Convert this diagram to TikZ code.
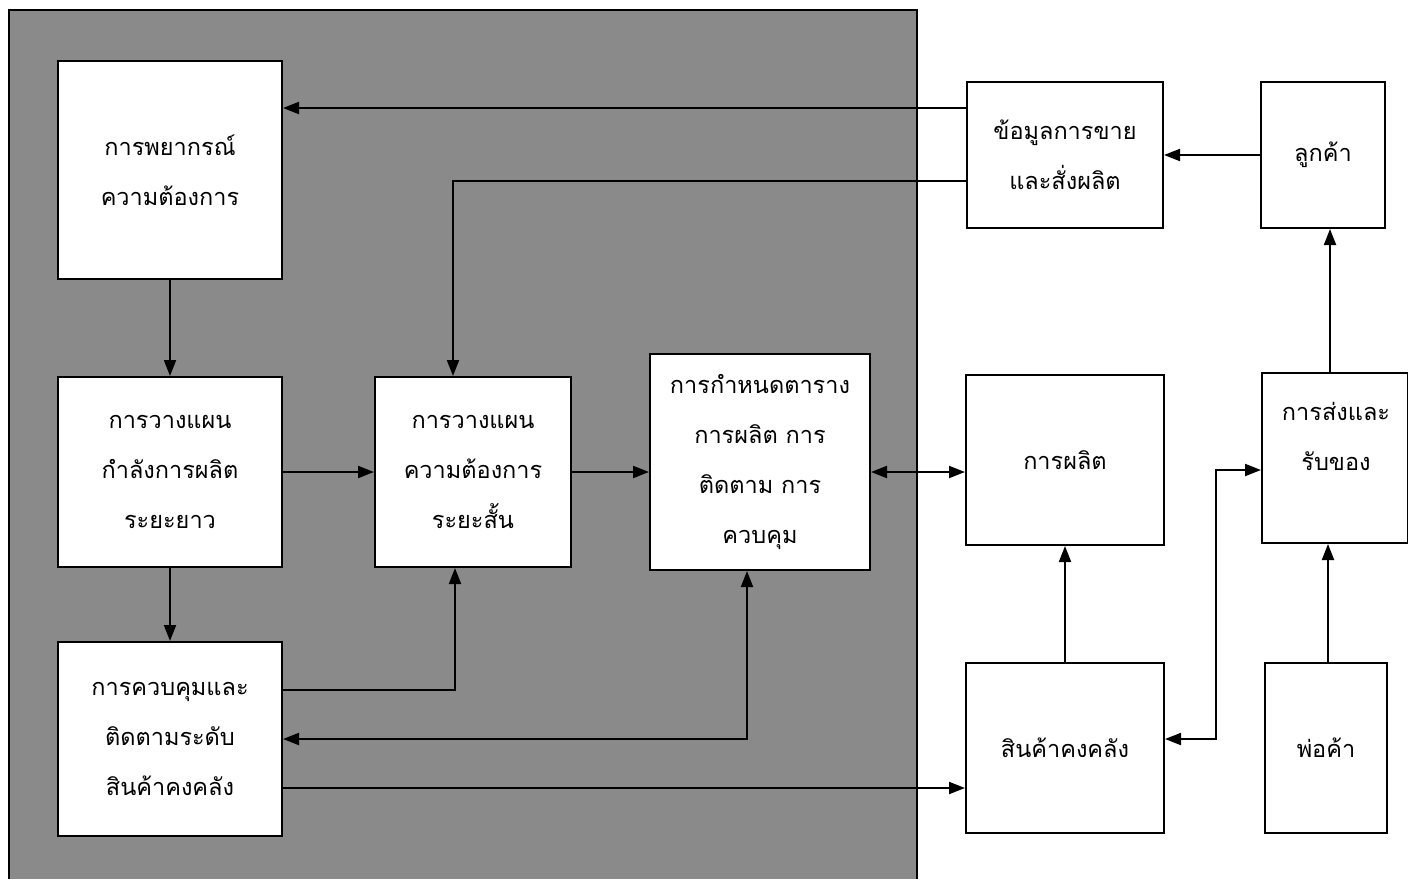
\documentclass[tikz,border=0pt]{standalone}
\usepackage{fontspec}
\newfontfamily\thaifont[Script=Thai]{Loma}
\usetikzlibrary{arrows.meta}
\definecolor{bggray}{RGB}{138,138,138}
\begin{document}
\begin{tikzpicture}[x=1pt,y=-1pt,
  box/.style={draw=black,fill=white,line width=2pt,rectangle,inner sep=0pt,align=center,
     font=\thaifont\fontsize{23.5}{50}\selectfont},
  arr/.style={line width=2pt,-{Triangle[length=16pt,width=12pt]}},
  arrb/.style={line width=2pt,{Triangle[length=16pt,width=12pt]}-{Triangle[length=16pt,width=12pt]}},
  lbl/.style={font=\thaifont\fontsize{23.5}{50}\selectfont,align=center,inner sep=0pt}]
\useasboundingbox (0,0) rectangle (1408,879);
\fill[bggray] (9,10) rectangle (917,879);
\draw[line width=2pt] (9,879) -- (9,10) -- (917,10) -- (917,879);
% boxes
\node[box,minimum width=224pt,minimum height=218pt] (F) at (170,170) {การพยากรณ์\\ความต้องการ};
\node[box,minimum width=224pt,minimum height=190pt] (L) at (170,472) {การวางแผน\\กำลังการผลิต\\ระยะยาว};
\node[box,minimum width=224pt,minimum height=194pt] (I) at (170,739) {การควบคุมและ\\ติดตามระดับ\\สินค้าคงคลัง};
\node[box,minimum width=196pt,minimum height=190pt] (S) at (473,472) {การวางแผน\\ความต้องการ\\ระยะสั้น};
\node[box,minimum width=220pt,minimum height=216pt] (C) at (760,462) {การกำหนดตาราง\\การผลิต การ\\ติดตาม การ\\ควบคุม};
\node[box,minimum width=196pt,minimum height=146pt] (D) at (1065,155) {ข้อมูลการขาย\\และสั่งผลิต};
\node[box,minimum width=124pt,minimum height=146pt] (K) at (1323,155) {ลูกค้า};
\node[box,minimum width=198pt,minimum height=170pt] (P) at (1065,460) {การผลิต};
\node[box,minimum width=146pt,minimum height=170pt] (R) at (1335,458) {};
\node[lbl] (Rt) at (1336,436) {การส่งและ\\รับของ};
\node[box,minimum width=198pt,minimum height=170pt] (V) at (1065,748) {สินค้าคงคลัง};
\node[box,minimum width=122pt,minimum height=170pt] (M) at (1326,748) {พ่อค้า};
% helper coordinates
\coordinate (d1) at ([yshift=47pt]D.west);
\coordinate (d2) at ([yshift=-26pt]D.west);
\coordinate (s1) at ([xshift=-20pt]S.north);
\coordinate (s2) at ([xshift=-18pt]S.south);
\coordinate (r1) at ([xshift=-5pt]R.north);
\coordinate (r2) at ([yshift=-12pt]R.west);
\coordinate (i1) at ([yshift=49pt]I.east);
\coordinate (i3) at ([yshift=-49pt]I.east);
\coordinate (c1) at ([xshift=-13pt]C.south);
\coordinate (v1) at ([yshift=9pt]V.east);
\coordinate (m1) at ([xshift=2pt]M.north);
% connectors
\draw[arr] (d1) -- (d1 -| F.east);
\draw[arr] (d2) -| (s1);
\draw[arr] (K.west) -- (D.east);
\draw[arr] (r1) -- (r1 |- K.south);
\draw[arr] (F.south) -- (L.north);
\draw[arr] (L.south) -- (I.north);
\draw[arr] (L.east) -- (S.west);
\draw[arr] (S.east) -- (S.east -| C.west);
\draw[arrb] (S.east -| C.east) -- (S.east -| P.west);
\draw[arr] (i1) -| (s2);
\draw[arrb] (c1) |- (I.east);
\draw[arr] (i3) -- (i3 -| V.west);
\draw[arr] (V.north) -- (P.south);
\draw[arrb] (v1) -- ++(51,0) |- (r2);
\draw[arr] (m1) -- (m1 |- R.south);
\end{tikzpicture}
\end{document}
